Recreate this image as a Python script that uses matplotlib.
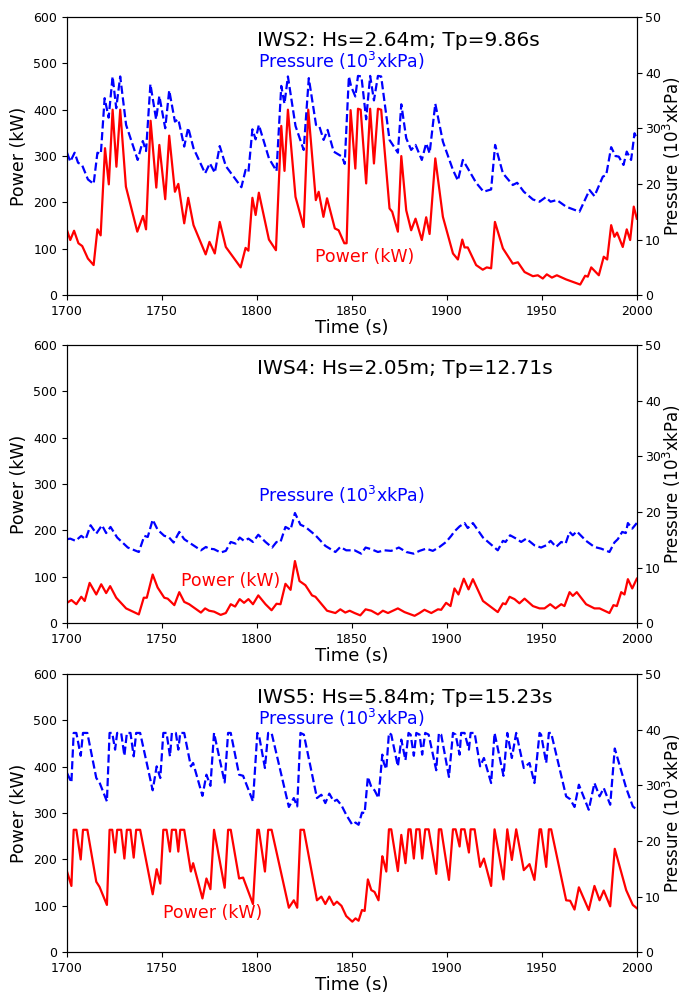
import matplotlib
matplotlib.use("Agg")
import matplotlib.pyplot as plt
import numpy as np

# ---- IWS2 ----
t2_pow = [1700, 1701.7, 1703.7, 1706, 1708, 1711, 1714, 1716, 1717.7, 1720, 1722, 1724, 1726, 1728, 1731,
          1737, 1740, 1741.6, 1744, 1747, 1748.6, 1751.7, 1753.8, 1756.8, 1758.6, 1761.7, 1763.8, 1766.6,
          1773, 1775, 1777.8, 1780.4, 1783.6, 1791.4, 1794, 1795.5, 1797.6, 1799.3, 1801, 1806.3, 1810,
          1812.8, 1814.5, 1816.3, 1820.3, 1824.6, 1827, 1831, 1832.5, 1835, 1836.9, 1841, 1843, 1846, 1847.2,
          1849.3, 1851.8, 1853.2, 1854.6, 1857.5, 1859.6, 1861.6, 1863.7, 1865.4, 1869.8, 1871.2, 1874.2,
          1876, 1878.6, 1881.2, 1883.5, 1886.8, 1889.1, 1890.9, 1893.9, 1897.9, 1903.2, 1905.8, 1908.1,
          1909.3, 1911, 1915.4, 1918.9, 1921, 1923.3, 1925.3, 1929.5, 1934.7, 1937.4, 1940.9, 1945.3,
          1947.9, 1950.5, 1952.6, 1955.3, 1957.9, 1962.8, 1970.2, 1972.8, 1974.2, 1976, 1980, 1982.6,
          1984.4, 1986.5, 1988.2, 1989.6, 1992.6, 1994.7, 1996.5, 1998.4, 2000]
p2_pow = [140, 119, 139, 112, 106, 79, 65, 142, 129, 317, 239, 400, 277, 400, 234,
          137, 171, 142, 376, 232, 324, 207, 344, 223, 240, 155, 210, 151,
          88, 115, 90, 158, 104, 60, 102, 96, 210, 173, 221, 120, 97,
          365, 268, 400, 212, 147, 400, 205, 223, 169, 209, 144, 140, 112, 112,
          399, 273, 402, 400, 241, 402, 284, 402, 400, 187, 180, 137,
          300, 183, 140, 165, 119, 168, 132, 295, 169, 90, 77, 120,
          103, 103, 65, 55, 60, 58, 158, 101, 68, 71, 50, 41,
          43, 36, 45, 38, 43, 34, 23, 42, 40, 60, 43, 83,
          77, 151, 126, 135, 104, 142, 119, 191, 165]

t2_pres = [1700, 1701.7, 1704, 1705.8, 1707.9, 1711, 1714, 1716, 1717.8, 1719.8, 1721.9, 1724, 1725.9, 1728,
           1731.1, 1737.2, 1739.9, 1741.6, 1743.9, 1746.9, 1748.6, 1751.7, 1753.8, 1756.8, 1758.6, 1761.7,
           1763.8, 1766.6, 1772.7, 1775.2, 1777.8, 1780.4, 1783.6, 1791.8, 1794, 1795.5, 1797.6, 1799.3,
           1801, 1806.3, 1810.3, 1812.8, 1814.5, 1816.3, 1820.3, 1824.6, 1827.3, 1831.1, 1832.8, 1835.1,
           1837.2, 1840.4, 1844.8, 1846.2, 1848.4, 1849.6, 1851.8, 1853.2, 1855, 1857.5, 1859.6, 1861.6,
           1863.7, 1865.4, 1869.8, 1874.2, 1876, 1878.6, 1881.2, 1883.5, 1886.8, 1889.1, 1890.9, 1893.9,
           1897.9, 1903.2, 1905.8, 1908.4, 1911, 1915.4, 1919.3, 1923.3, 1925.4, 1929.5, 1934.7, 1937,
           1940.5, 1945.3, 1948.8, 1952, 1954.6, 1957.9, 1962.8, 1969.8, 1972.8, 1975.1, 1977.7, 1982.1,
           1983.9, 1986.5, 1988.8, 1990.5, 1993, 1994.7, 1997, 1998.8, 2000]
p2_pres = [25.6, 24.0, 25.6, 23.8, 23.4, 20.8, 20.0, 25.6, 25.4, 35.4, 31.9, 39.3, 33.6, 39.3,
           30.6, 24.3, 27.7, 25.9, 37.9, 31.6, 35.8, 30.0, 36.8, 31.2, 31.6, 26.7,
           30.1, 26.4, 21.9, 23.7, 22.0, 26.8, 23.2, 19.4, 22.5, 22.1, 29.8, 28.0,
           30.6, 24.6, 22.3, 37.6, 34.4, 39.3, 30.4, 26.1, 39.0, 30.6, 30.4, 27.9,
           29.7, 25.8, 24.9, 23.6, 39.3, 37.5, 35.7, 39.4, 39.3, 31.6, 39.4, 35.0,
           39.4, 39.3, 27.9, 25.6, 34.3, 28.2, 26.1, 27.0, 24.3, 27.3, 25.5, 34.4,
           27.6, 22.5, 20.6, 24.3, 22.8, 20.2, 18.6, 19.0, 27.0, 21.9, 19.8, 20.2,
           18.6, 17.2, 16.8, 17.6, 16.8, 17.1, 15.9, 15.0, 17.2, 18.9, 17.8, 21.3,
           21.6, 26.6, 25.0, 24.9, 23.4, 25.8, 24.3, 29.1, 28.2]

# ---- IWS4 ----
t4_pow = [1700, 1702.3, 1704.9, 1707.5, 1709.3, 1711.9, 1715.4, 1718, 1720.6, 1722.7, 1725.9, 1731.1, 1737.8,
          1740.4, 1742, 1745.1, 1747.7, 1751.2, 1753, 1756.5, 1759.1, 1761.7, 1764.3, 1770.5, 1772.7,
          1774.8, 1777.4, 1780.9, 1783.6, 1786.2, 1788.5, 1790.9, 1793.2, 1795.5, 1797.9, 1800.7, 1804.5,
          1807.7, 1810.3, 1812.4, 1815, 1817.7, 1820, 1822.4, 1825.5, 1829, 1830.8, 1836.9, 1841.3, 1843.9,
          1846.5, 1848.8, 1851.4, 1854.4, 1857.2, 1860.2, 1863.7, 1866.3, 1869, 1871.6, 1874.2, 1877.7,
          1883, 1885.6, 1888.2, 1891.8, 1895.3, 1897, 1899.6, 1901.9, 1904, 1906.1, 1908.9, 1911.4,
          1913.7, 1919, 1926.8, 1929.5, 1930.9, 1933, 1935.6, 1938.2, 1940.9, 1945.3, 1948.8, 1951.4,
          1954.4, 1957.2, 1960.2, 1961.9, 1964.6, 1966.3, 1968.4, 1973.3, 1977.7, 1980.4, 1983, 1985.6,
          1987.7, 1989.5, 1991.8, 1993.5, 1995.3, 1997.6, 2000]
p4_pow = [44, 50, 41, 57, 48, 87, 62, 84, 65, 80, 55, 32, 19,
          55, 55, 105, 77, 55, 53, 39, 67, 46, 41, 23, 32,
          27, 25, 18, 22, 41, 36, 52, 44, 52, 41, 60, 41,
          28, 42, 41, 85, 72, 134, 91, 82, 60, 57, 27, 22, 30,
          23, 27, 22, 17, 30, 27, 19, 27, 22, 27, 32, 24,
          16, 22, 29, 22, 30, 29, 44, 37, 75, 62, 96, 73,
          95, 48, 24, 43, 41, 57, 52, 43, 53, 37, 32, 32,
          41, 32, 41, 37, 67, 59, 67, 41, 32, 32, 27, 22,
          39, 37, 67, 62, 95, 75, 96]

t4_pres = [1700, 1701.7, 1704.5, 1707.5, 1709.8, 1712.4, 1715.4, 1718.4, 1720.6, 1722.9, 1726.4, 1732, 1737.8,
           1740.7, 1742.5, 1745.1, 1747.7, 1751.2, 1753.5, 1756.1, 1759.1, 1761.7, 1764.3, 1770.5, 1773.1,
           1774.8, 1777.4, 1780.9, 1783.6, 1786.2, 1788.8, 1790.9, 1793.2, 1795.5, 1797.9, 1800.7, 1804.5,
           1808, 1810.3, 1812.4, 1815, 1817.7, 1820, 1822.9, 1825.5, 1830.8, 1836, 1841.3, 1843.9, 1847,
           1851.4, 1854.9, 1857.2, 1860.2, 1863.7, 1867.2, 1870.7, 1874.7, 1878.6, 1882.5, 1885.6, 1889.1,
           1892.6, 1896.1, 1899.6, 1902.3, 1904, 1906.7, 1909.3, 1911, 1913.7, 1919, 1926.8, 1929.5,
           1930.9, 1933.3, 1936.5, 1939.1, 1941.8, 1946.1, 1949.6, 1952.3, 1954.6, 1957.5, 1960.2, 1962.5,
           1964.6, 1966.3, 1968.4, 1973.3, 1977.7, 1981.2, 1985.6, 1988.2, 1990, 1992.3, 1994.2, 1995.3,
           1997.6, 2000]
p4_pres = [15.1, 15.2, 14.8, 15.7, 15.1, 17.6, 16.1, 17.6, 16.2, 17.3, 15.4, 13.6, 12.8,
           15.7, 15.5, 18.6, 16.8, 15.7, 15.5, 14.5, 16.4, 15.1, 14.5, 13.1, 13.7,
           13.4, 13.3, 12.7, 13.0, 14.6, 14.3, 15.4, 14.8, 15.2, 14.6, 15.9, 14.6,
           13.6, 14.6, 14.6, 17.3, 16.8, 19.8, 17.7, 17.3, 15.8, 13.9, 12.8, 13.7, 13.1,
           13.1, 12.5, 13.6, 13.3, 12.8, 13.1, 13.0, 13.6, 12.8, 12.5, 13.0, 13.4,
           13.0, 13.7, 14.6, 15.7, 16.5, 17.4, 18.0, 17.1, 18.0, 15.4, 13.1, 14.8,
           14.6, 15.8, 15.2, 14.6, 15.2, 14.0, 13.6, 14.0, 14.8, 13.7, 14.6, 14.3,
           16.4, 15.8, 16.5, 14.8, 13.7, 13.4, 12.8, 14.5, 15.1, 16.4, 16.2, 18.0,
           17.0, 18.0]

# ---- IWS5 ----
t5 = [1700, 1702.3, 1703.5, 1704.9, 1707.2, 1708.4, 1710.7, 1715.4, 1717.1, 1721, 1722.4, 1723.8, 1725.3,
      1726.4, 1728.5, 1730.2, 1731.5, 1733.4, 1735.1, 1736.4, 1738.5, 1745.1, 1747.2, 1749.1, 1750.7,
      1752.4, 1754.2, 1755.2, 1757.3, 1758.6, 1759.6, 1761.7, 1765.2, 1766.4, 1771.3, 1773.4, 1775.5,
      1777.4, 1783, 1784.8, 1786.2, 1790.6, 1792.7, 1797.9, 1800.2, 1801, 1804.2, 1805.9, 1807.7,
      1816.8, 1819.4, 1821.2, 1822.9, 1824.7, 1831.6, 1833.9, 1836, 1838.1, 1840.4, 1842.1, 1844.5,
      1847, 1850.2, 1851.9, 1853.5, 1855.3, 1856.7, 1858.4, 1860.2, 1861.9, 1864, 1866, 1866.8, 1868.1,
      1869.5, 1870.7, 1874.2, 1876, 1878.2, 1879.8, 1880.9, 1882.6, 1883.9, 1885.6, 1887, 1888.6,
      1890.4, 1894.4, 1895.8, 1897, 1901.1, 1903.2, 1904.6, 1906.7, 1907.5, 1909.3, 1911.6, 1912.5,
      1914.6, 1917.5, 1919.5, 1923.3, 1925.1, 1929.8, 1931.8, 1934.2, 1936.5, 1940.5, 1943.5, 1946.1,
      1948.8, 1949.6, 1952.3, 1953.7, 1954.9, 1962.8, 1964.9, 1967.2, 1969.5, 1974.7, 1977.7, 1980.4,
      1982.6, 1986, 1988.4, 1994.4, 1997.9, 2000]
p5_pow = [174, 143, 264, 264, 200, 264, 264, 152, 141, 102, 264, 264, 215,
          264, 264, 202, 264, 264, 204, 264, 264, 125, 179, 148, 264,
          264, 217, 264, 264, 217, 264, 264, 174, 192, 116, 159, 136,
          264, 139, 264, 264, 159, 161, 104, 264, 264, 174, 264, 264,
          96, 112, 96, 264, 264, 112, 120, 104, 120, 102, 109, 100,
          78, 66, 73, 68, 91, 89, 157, 134, 130, 112, 207, 195, 174,
          265, 265, 175, 253, 192, 265, 265, 202, 265, 265, 202, 265,
          265, 169, 265, 265, 156, 265, 265, 228, 265, 265, 215, 265,
          265, 184, 202, 143, 265, 157, 265, 199, 265, 177, 190, 156,
          265, 265, 184, 265, 265, 112, 111, 92, 140, 91, 143, 112,
          133, 99, 223, 134, 102, 95]
p5_pres = [32.2, 30.5, 39.4, 39.4, 35.3, 39.4, 39.4, 31.3, 30.5, 27.1, 39.4, 39.4, 36.4,
           39.4, 39.4, 35.3, 39.4, 39.4, 35.2, 39.4, 39.4, 29.1, 33.4, 31.3, 39.4,
           39.4, 35.2, 39.4, 39.4, 36.4, 39.4, 39.4, 33.4, 34.0, 28.1, 31.9, 29.9,
           39.4, 30.5, 39.4, 39.4, 31.9, 31.7, 27.1, 39.4, 39.1, 33.1, 39.4, 39.4,
           26.1, 27.7, 26.2, 39.4, 39.1, 27.7, 28.3, 26.8, 28.5, 27.1, 27.4, 26.4,
           24.7, 22.9, 23.3, 22.9, 25.1, 25.0, 31.5, 29.7, 29.1, 27.7, 35.5, 34.0, 32.9,
           39.4, 39.1, 33.4, 38.2, 34.5, 39.4, 39.1, 35.3, 39.4, 39.1, 35.5, 39.4,
           39.1, 32.7, 39.4, 39.1, 31.5, 39.4, 39.1, 35.5, 39.4, 39.4, 36.4, 39.4,
           39.4, 33.4, 34.9, 30.4, 39.4, 31.7, 39.4, 34.9, 39.4, 33.1, 34.0, 30.4,
           39.4, 39.1, 34.0, 39.4, 39.4, 28.0, 27.5, 26.1, 30.1, 25.6, 30.4, 28.0,
           29.5, 26.5, 36.6, 29.5, 26.2, 25.6]

titles = ["IWS2: Hs=2.64m; Tp=9.86s", "IWS4: Hs=2.05m; Tp=12.71s", "IWS5: Hs=5.84m; Tp=15.23s"]
power_series = [(t2_pow, p2_pow), (t4_pow, p4_pow), (t5, p5_pow)]
pressure_series = [(t2_pres, p2_pres), (t4_pres, p4_pres), (t5, p5_pres)]

# label placement (data coords) per panel
pres_label_y = [505, 276, 505]
pow_label_xy = [(1830.5, 82), (1760, 90), (1750.5, 84)]

fig = plt.figure(figsize=(6.84, 9.94), dpi=100)
bottoms = [0.703, 0.373, 0.042]

for i in range(3):
    ax = fig.add_axes([0.098, bottoms[i], 0.833, 0.280])
    ax2 = ax.twinx()

    tp, pp = power_series[i]
    ax.plot(tp, pp, color='red', lw=1.6)
    tq, pq = pressure_series[i]
    ax2.plot(tq, pq, color='blue', lw=1.6, ls='--')

    ax.set_xlim(1700, 2000)
    ax.set_ylim(0, 600)
    ax2.set_ylim(0, 50)
    ax.set_xticks([1700, 1750, 1800, 1850, 1900, 1950, 2000])
    ax.set_xlabel('Time (s)', fontsize=13, labelpad=1)
    ax.set_ylabel('Power (kW)', fontsize=12.5)
    ax2.set_ylabel('Pressure (10$^3$xkPa)', fontsize=12, labelpad=0)
    ax.tick_params(labelsize=9)
    ax2.tick_params(labelsize=9, pad=2.5)

    ax.text(1800, 550, titles[i], fontsize=14.5, va='center', ha='left')
    ax.text(1800.5, pres_label_y[i], 'Pressure (10$^3$xkPa)', color='blue', fontsize=12.5,
            va='center', ha='left')
    ax.text(pow_label_xy[i][0], pow_label_xy[i][1], 'Power (kW)', color='red', fontsize=12.5,
            va='center', ha='left')

fig.savefig('out.png', dpi=100)
